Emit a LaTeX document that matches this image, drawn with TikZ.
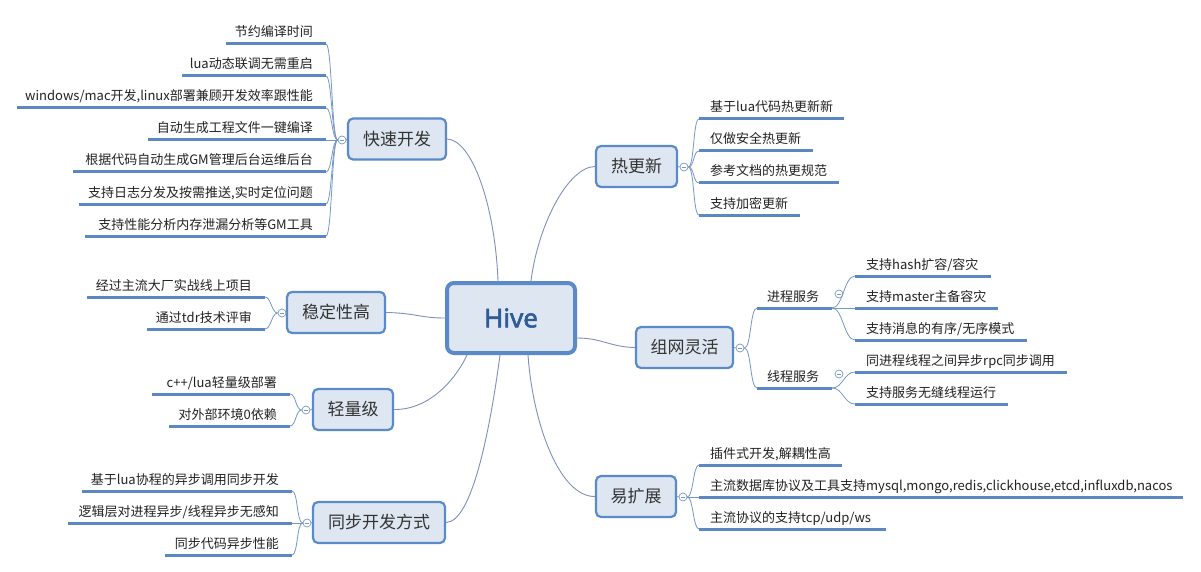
\documentclass[tikz,border=0pt]{standalone}
\usepackage{fontspec}
\setmainfont{Noto Sans CJK SC}
\newfontfamily\hivefont{Noto Sans}[FakeBold=2.2]
\definecolor{boxfill}{HTML}{DDE6F1}
\definecolor{boxline}{HTML}{5A8AC9}
\definecolor{hivetext}{HTML}{2F5C99}
\definecolor{uline}{HTML}{5B87C2}
\definecolor{connc}{HTML}{7F90BD}
\definecolor{brc}{HTML}{7797C8}
\definecolor{txt}{HTML}{222222}
\definecolor{toptxt}{HTML}{333333}
\tikzset{
  topic/.style={draw=boxline, line width=2.2pt, fill=boxfill, rounded corners=5pt,
    text=toptxt, font=\fontsize{17}{20}\selectfont, inner sep=0pt, minimum height=41pt},
  hivebox/.style={draw=boxline, line width=4pt, fill=boxfill, rounded corners=7pt,
    text=hivetext, font=\hivefont\fontsize{26}{30}\selectfont,
    minimum width=128pt, minimum height=70pt, inner sep=0pt},
  leaf/.style={text=txt, font=\fontsize{13}{15}\selectfont, inner sep=0pt},
  uline/.style={draw=uline, line width=3pt},
  conn/.style={draw=connc, line width=0.9pt},
  br/.style={draw=brc, line width=0.8pt},
  collapse/.style={circle, draw=brc, line width=0.7pt, fill=white, inner sep=0pt,
    minimum size=8pt,
    path picture={\draw[brc, line width=0.6pt]
      ([xshift=-2.4pt]path picture bounding box.center) --
      ([xshift=2.4pt]path picture bounding box.center);}}
}
% name, xl, xr, y, text : text right-aligned (left side)
\newcommand\LeafL[5]{%
  \coordinate (#1-l) at (#2,#4);
  \coordinate (#1-r) at (#3,#4);
  \draw[uline] (#1-l) -- (#1-r);
  \node[leaf, anchor=base east] (#1) at ({#3-13},{#4-7}) {#5};}
% name, xl, xr, y, text : text left-aligned (right side)
\newcommand\LeafR[5]{%
  \coordinate (#1-l) at (#2,#4);
  \coordinate (#1-r) at (#3,#4);
  \draw[uline] (#1-l) -- (#1-r);
  \node[leaf, anchor=base west] (#1) at ({#2+11},{#4-7}) {#5};}
\begin{document}
\begin{tikzpicture}[x=1pt, y=-1pt]
\useasboundingbox[fill=white] (0,0) rectangle (1201,572);

% central node
\node[hivebox] (hive) at (511,318) {Hive};

% main topics
\node[topic, minimum width=98pt] (kf) at (397,139) {快速开发};
\node[topic, minimum width=98pt] (wd) at (336,312.5) {稳定性高};
\node[topic, minimum width=80pt] (ql) at (353,409.5) {轻量级};
\node[topic, minimum width=132pt] (tb) at (379,522.5) {同步开发方式};
\node[topic, minimum width=81pt] (rg) at (636.5,166.5) {热更新};
\node[topic, minimum width=97pt] (zw) at (684.5,347.5) {组网灵活};
\node[topic, minimum width=80pt] (yk) at (636,496.5) {易扩展};

% connectors from Hive
\draw[conn] (kf.east) .. controls (472,140) and (495,205) .. ([xshift=-13pt]hive.north);
\draw[conn] (rg.west) .. controls (568,167) and (538,225) .. ([xshift=20pt]hive.north);
\draw[conn] (wd.east) .. controls (415,313) and (420,318) .. (hive.west);
\draw[conn] (ql.east) .. controls (432,410) and (458,375) .. ([xshift=-44pt]hive.south);
\draw[conn] (tb.east) .. controls (472,522) and (490,430) .. ([xshift=-11pt]hive.south);
\draw[conn] ([xshift=17pt]hive.south) .. controls (533,425) and (560,497) .. (yk.west);
\draw[conn] ([yshift=-20pt]hive.east) .. controls (602,338) and (610,347) .. (zw.west);

% ---------- 快速开发 ----------
\LeafL{a1}{226}{326}{44}{节约编译时间}
\LeafL{a2}{182}{326}{76}{lua动态联调无需重启}
\LeafL{a3}{17}{326}{108}{windows/mac开发,linux部署兼顾开发效率跟性能}
\LeafL{a4}{148}{326}{140}{自动生成工程文件一键编译}
\LeafL{a5}{73}{326}{172}{根据代码自动生成GM管理后台运维后台}
\LeafL{a6}{79}{326}{204}{支持日志分发及按需推送,实时定位问题}
\LeafL{a7}{85}{326}{236}{支持性能分析内存泄漏分析等GM工具}
\node[collapse] (kf-c) at (342,140) {};
\draw[br] (kf.west) -- (kf-c.east);
\foreach \n in {a1,a2,a3,a4,a5,a6,a7}
  \draw[br] (kf-c.west) .. controls +(-6,0) and +(6,0) .. (\n-r);

% ---------- 稳定性高 ----------
\LeafL{b1}{87}{265}{297}{经过主流大厂实战线上项目}
\LeafL{b2}{147}{265}{329}{通过tdr技术评审}
\node[collapse] (wd-c) at (282,313) {};
\draw[br] (wd.west) -- (wd-c.east);
\foreach \n in {b1,b2}
  \draw[br] (wd-c.west) .. controls +(-6,0) and +(6,0) .. (\n-r);

% ---------- 轻量级 ----------
\LeafL{c1}{152}{290}{394}{c++/lua轻量级部署}
\LeafL{c2}{169}{290}{426}{对外部环境0依赖}
\node[collapse] (ql-c) at (306,410) {};
\draw[br] (ql.west) -- (ql-c.east);
\foreach \n in {c1,c2}
  \draw[br] (ql-c.west) .. controls +(-6,0) and +(6,0) .. (\n-r);

% ---------- 同步开发方式 ----------
\LeafL{d1}{82}{292}{491}{基于lua协程的异步调用同步开发}
\LeafL{d2}{68}{292}{523}{逻辑层对进程异步/线程异步无感知}
\LeafL{d3}{165}{292}{555}{同步代码异步性能}
\node[collapse] (tb-c) at (307,523) {};
\draw[br] (tb.west) -- (tb-c.east);
\foreach \n in {d1,d2,d3}
  \draw[br] (tb-c.west) .. controls +(-6,0) and +(6,0) .. (\n-r);

% ---------- 热更新 ----------
\LeafR{e1}{699}{844}{119}{基于lua代码热更新新}
\LeafR{e2}{699}{813}{151}{仅做安全热更新}
\LeafR{e3}{699}{839}{183}{参考文档的热更规范}
\LeafR{e4}{699}{800}{215}{支持加密更新}
\node[collapse] (rg-c) at (684,167) {};
\draw[br] (rg.east) -- (rg-c.west);
\foreach \n in {e1,e2,e3,e4}
  \draw[br] (rg-c.east) .. controls +(6,0) and +(-6,0) .. (\n-l);

% ---------- 组网灵活 ----------
\coordinate (s1-l) at (757,308); \coordinate (s1-r) at (832,308);
\coordinate (s2-l) at (757,388); \coordinate (s2-r) at (832,388);
\draw[uline] (s1-l) -- (s1-r);
\draw[uline] (s2-l) -- (s2-r);
\node[leaf, anchor=base west] (s1) at (767,301) {进程服务};
\node[leaf, anchor=base west] (s2) at (767,381) {线程服务};
\node[collapse] (zw-c) at (740,348) {};
\draw[br] (zw.east) -- (zw-c.west);
\foreach \n in {s1,s2}
  \draw[br] (zw-c.east) .. controls +(7,0) and +(-7,0) .. (\n-l);
\node[collapse] (s1-c) at (839,294) {};
\node[collapse] (s2-c) at (839,374) {};
\LeafR{f1}{855}{991}{276}{支持hash扩容/容灾}
\LeafR{f2}{855}{998}{308}{支持master主备容灾}
\LeafR{f3}{855}{1027}{340}{支持消息的有序/无序模式}
\LeafR{g1}{855}{1067}{372}{同进程线程之间异步rpc同步调用}
\LeafR{g2}{855}{1008}{404}{支持服务无缝线程运行}
\foreach \n in {f1,f2,f3}
  \draw[br] (s1-r) .. controls +(11,0) and +(-11,0) .. (\n-l);
\foreach \n in {g1,g2}
  \draw[br] (s2-r) .. controls +(11,0) and +(-11,0) .. (\n-l);

% ---------- 易扩展 ----------
\LeafR{h1}{699}{842}{465}{插件式开发,解耦性高}
\LeafR{h2}{699}{1183}{497}{主流数据库协议及工具支持mysql,mongo,redis,clickhouse,etcd,influxdb,nacos}
\LeafR{h3}{699}{886}{529}{主流协议的支持tcp/udp/ws}
\node[collapse] (yk-c) at (683,497) {};
\draw[br] (yk.east) -- (yk-c.west);
\foreach \n in {h1,h2,h3}
  \draw[br] (yk-c.east) .. controls +(6,0) and +(-6,0) .. (\n-l);
\end{tikzpicture}
\end{document}
